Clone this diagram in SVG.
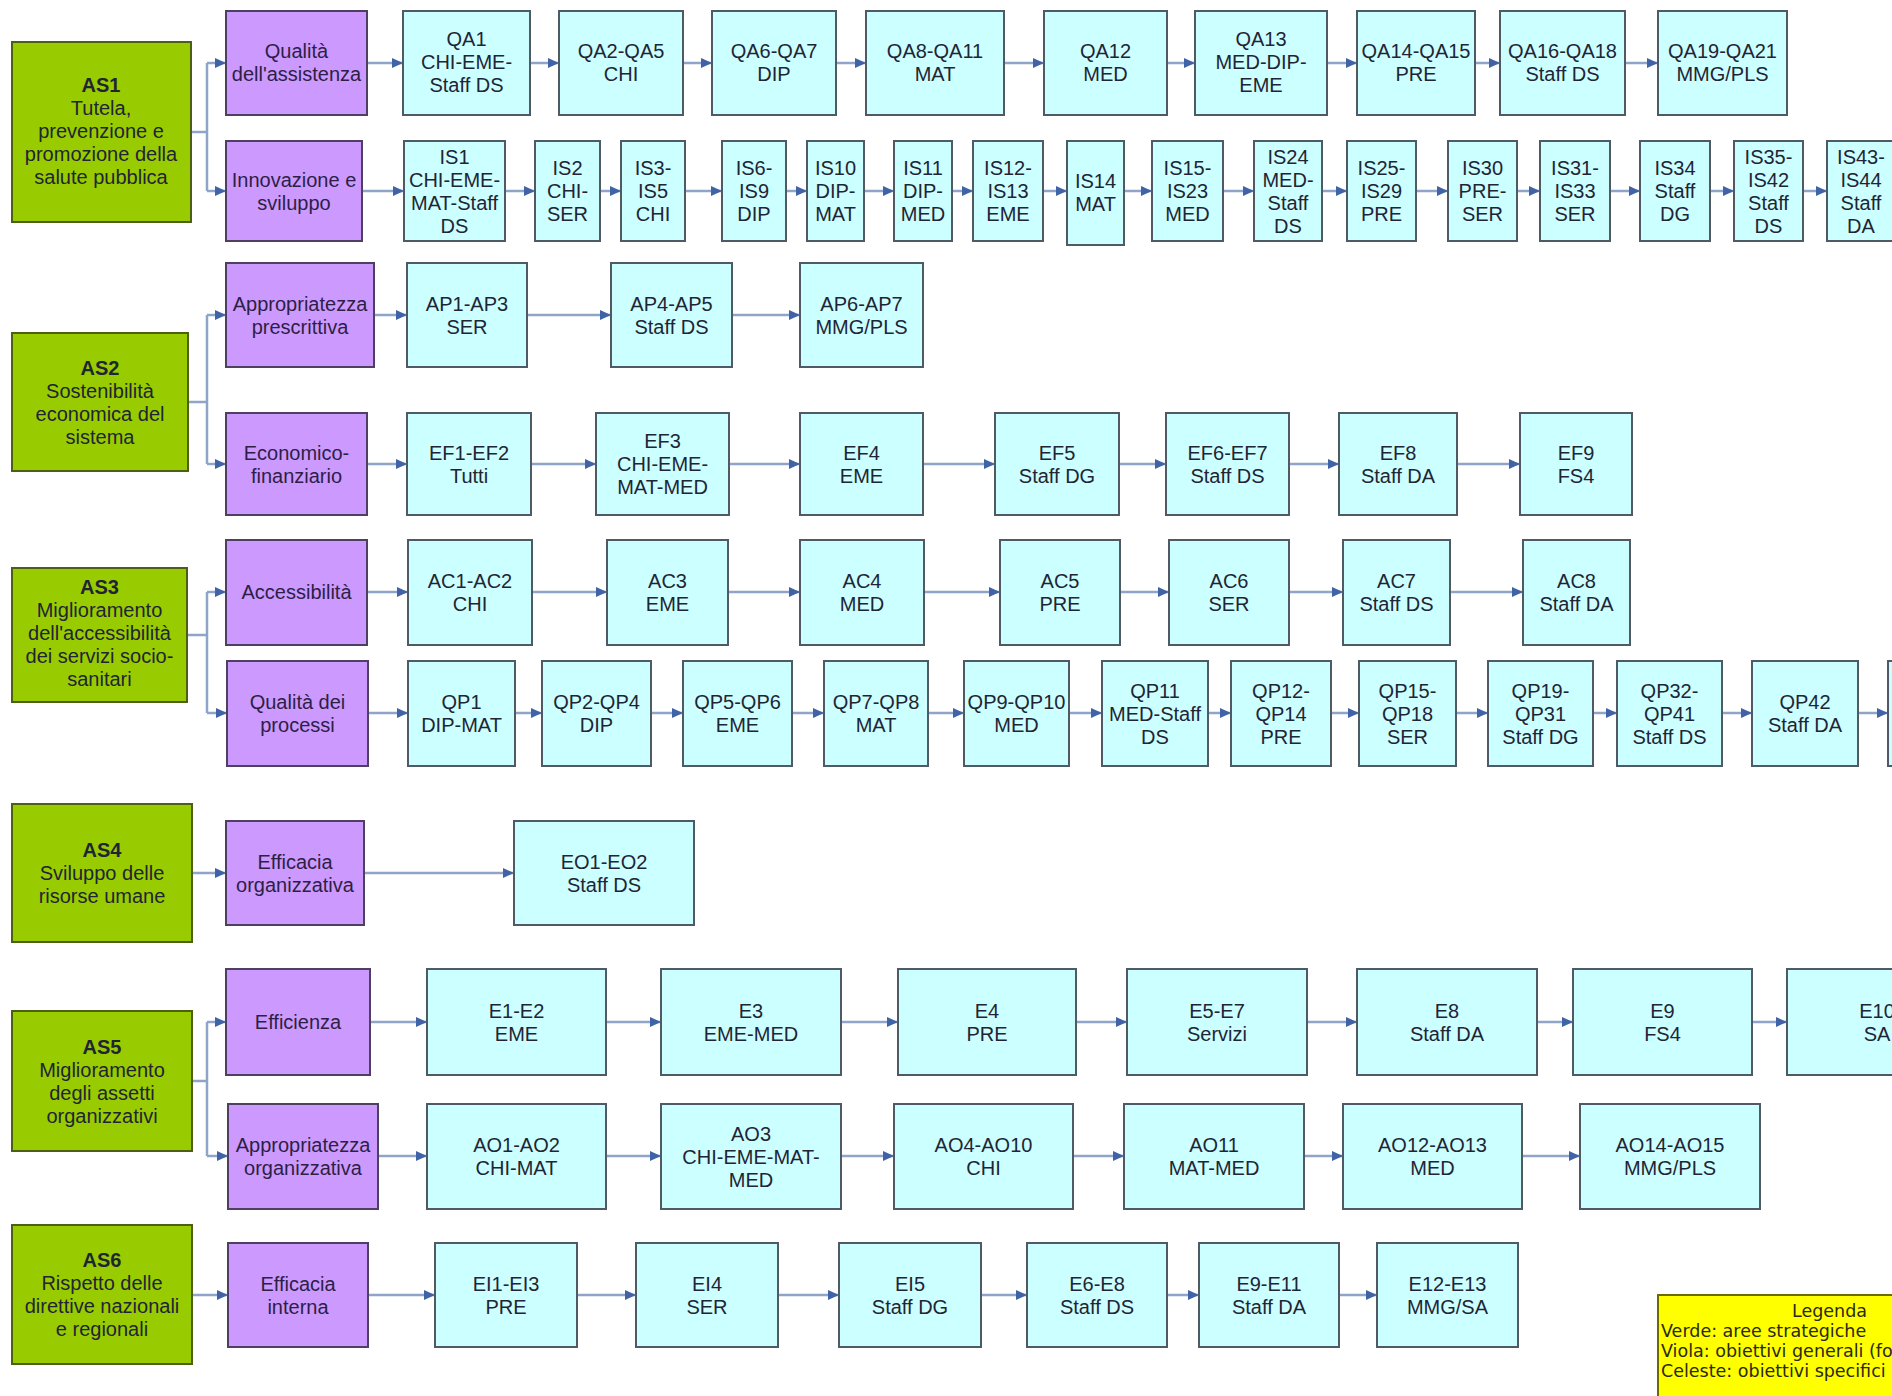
<svg xmlns="http://www.w3.org/2000/svg" width="1892" height="1396" viewBox="0 0 1892 1396">
<defs>
<marker id="ah" markerWidth="11" markerHeight="10" refX="10" refY="5" orient="auto" markerUnits="userSpaceOnUse"><path d="M0,0 L11,5 L0,10 z" fill="#3f63a6"/></marker>
<style>
.g{fill:#99cc00;stroke:#4d5f10;stroke-width:2}
.p{fill:#cc99ff;stroke:#4e4060;stroke-width:2}
.c{fill:#ccffff;stroke:#505a64;stroke-width:2}
text{font-family:"Liberation Sans",Arial,sans-serif;font-size:20px;fill:#1f2535;text-anchor:middle}
.pt{fill:#2d1f45}
.b{font-weight:bold}
.bus path{stroke:#8ea4c8;stroke-width:2.5;fill:none}
.arr path{stroke:#8ea4c8;stroke-width:2.5;fill:none;marker-end:url(#ah)}
.leg{fill:#ffff00;stroke:#6b6b00;stroke-width:2}
.lt{font-family:"DejaVu Sans",Verdana,sans-serif;font-size:17.5px;fill:#2a2a10;text-anchor:start}
</style>
</defs>
<rect width="1892" height="1396" fill="#ffffff"/>

<g id="connectors">
<g class="bus">
<path d="M191 132 H207 M207 63 V191"/>
<path d="M188 402 H207 M207 315 V464"/>
<path d="M187 635 H207 M207 592 V713"/>
<path d="M192 1081 H207 M207 1022 V1156"/>
</g>
<g class="arr">
<path d="M207 63 H225"/><path d="M207 191 H225"/>
<path d="M207 315 H225"/><path d="M207 464 H225"/>
<path d="M207 592 H225"/><path d="M207 713 H226"/>
<path d="M207 1022 H225"/><path d="M207 1156 H227"/>
<path d="M192 873 H225"/><path d="M192 1295 H227"/>
<path d="M367 63 H402"/><path d="M530 63 H558"/><path d="M683 63 H711"/><path d="M836 63 H865"/><path d="M1004 63 H1043"/><path d="M1167 63 H1194"/><path d="M1327 63 H1356"/><path d="M1475 63 H1499"/><path d="M1625 63 H1657"/>
<path d="M362 191 H403"/><path d="M505 191 H534"/><path d="M600 191 H620"/><path d="M685 191 H721"/><path d="M786 191 H806"/><path d="M864 191 H893"/><path d="M952 191 H972"/><path d="M1043 191 H1066"/><path d="M1124 191 H1151"/><path d="M1223 191 H1253"/><path d="M1322 191 H1346"/><path d="M1416 191 H1447"/><path d="M1517 191 H1539"/><path d="M1610 191 H1639"/><path d="M1710 191 H1733"/><path d="M1803 191 H1826"/>
<path d="M374 315 H406"/><path d="M527 315 H610"/><path d="M732 315 H799"/>
<path d="M367 464 H406"/><path d="M531 464 H595"/><path d="M729 464 H799"/><path d="M923 464 H994"/><path d="M1119 464 H1165"/><path d="M1289 464 H1338"/><path d="M1457 464 H1519"/>
<path d="M367 592 H407"/><path d="M532 592 H606"/><path d="M728 592 H799"/><path d="M924 592 H999"/><path d="M1120 592 H1168"/><path d="M1289 592 H1342"/><path d="M1450 592 H1522"/>
<path d="M368 713 H407"/><path d="M515 713 H541"/><path d="M651 713 H682"/><path d="M792 713 H823"/><path d="M928 713 H963"/><path d="M1069 713 H1101"/><path d="M1208 713 H1230"/><path d="M1331 713 H1358"/><path d="M1456 713 H1487"/><path d="M1593 713 H1616"/><path d="M1722 713 H1751"/><path d="M1858 713 H1887"/>
<path d="M364 873 H513"/>
<path d="M370 1022 H426"/><path d="M606 1022 H660"/><path d="M841 1022 H897"/><path d="M1076 1022 H1126"/><path d="M1307 1022 H1356"/><path d="M1537 1022 H1572"/><path d="M1752 1022 H1786"/>
<path d="M378 1156 H426"/><path d="M606 1156 H660"/><path d="M841 1156 H893"/><path d="M1073 1156 H1123"/><path d="M1304 1156 H1342"/><path d="M1522 1156 H1579"/>
<path d="M368 1295 H434"/><path d="M577 1295 H635"/><path d="M778 1295 H838"/><path d="M981 1295 H1026"/><path d="M1167 1295 H1198"/><path d="M1339 1295 H1376"/>
</g>
</g>

<!-- AS1 -->
<g id="AS1"><rect class="g" x="12" y="42" width="179" height="180"/><text><tspan class="b" x="101" y="92">AS1</tspan><tspan x="101" y="115">Tutela,</tspan><tspan x="101" y="138">prevenzione e</tspan><tspan x="101" y="161">promozione della</tspan><tspan x="101" y="184">salute pubblica</tspan></text></g>
<g id="QualitaAssistenza"><rect class="p" x="226" y="11" width="141" height="104"/><text class="pt"><tspan x="296.5" y="57.5">Qualità</tspan><tspan x="296.5" y="80.5">dell'assistenza</tspan></text></g>
<g id="QA1"><rect class="c" x="403" y="11" width="127" height="104"/><text><tspan x="466.5" y="46">QA1</tspan><tspan x="466.5" y="69">CHI-EME-</tspan><tspan x="466.5" y="92">Staff DS</tspan></text></g>
<g id="QA2-QA5"><rect class="c" x="559" y="11" width="124" height="104"/><text><tspan x="621" y="57.5">QA2-QA5</tspan><tspan x="621" y="80.5">CHI</tspan></text></g>
<g id="QA6-QA7"><rect class="c" x="712" y="11" width="124" height="104"/><text><tspan x="774" y="57.5">QA6-QA7</tspan><tspan x="774" y="80.5">DIP</tspan></text></g>
<g id="QA8-QA11"><rect class="c" x="866" y="11" width="138" height="104"/><text><tspan x="935" y="57.5">QA8-QA11</tspan><tspan x="935" y="80.5">MAT</tspan></text></g>
<g id="QA12"><rect class="c" x="1044" y="11" width="123" height="104"/><text><tspan x="1105.5" y="57.5">QA12</tspan><tspan x="1105.5" y="80.5">MED</tspan></text></g>
<g id="QA13"><rect class="c" x="1195" y="11" width="132" height="104"/><text><tspan x="1261" y="46">QA13</tspan><tspan x="1261" y="69">MED-DIP-</tspan><tspan x="1261" y="92">EME</tspan></text></g>
<g id="QA14-QA15"><rect class="c" x="1357" y="11" width="118" height="104"/><text><tspan x="1416" y="57.5">QA14-QA15</tspan><tspan x="1416" y="80.5">PRE</tspan></text></g>
<g id="QA16-QA18"><rect class="c" x="1500" y="11" width="125" height="104"/><text><tspan x="1562.5" y="57.5">QA16-QA18</tspan><tspan x="1562.5" y="80.5">Staff DS</tspan></text></g>
<g id="QA19-QA21"><rect class="c" x="1658" y="11" width="129" height="104"/><text><tspan x="1722.5" y="57.5">QA19-QA21</tspan><tspan x="1722.5" y="80.5">MMG/PLS</tspan></text></g>

<g id="InnovazioneSviluppo"><rect class="p" x="226" y="141" width="136" height="100"/><text class="pt"><tspan x="294" y="186.5">Innovazione e</tspan><tspan x="294" y="209.5">sviluppo</tspan></text></g>
<g id="IS1"><rect class="c" x="404" y="141" width="101" height="100"/><text><tspan x="454.5" y="163.5">IS1</tspan><tspan x="454.5" y="186.5">CHI-EME-</tspan><tspan x="454.5" y="209.5">MAT-Staff</tspan><tspan x="454.5" y="232.5">DS</tspan></text></g>
<g id="IS2"><rect class="c" x="535" y="141" width="65" height="100"/><text><tspan x="567.5" y="175">IS2</tspan><tspan x="567.5" y="198">CHI-</tspan><tspan x="567.5" y="221">SER</tspan></text></g>
<g id="IS3-IS5"><rect class="c" x="621" y="141" width="64" height="100"/><text><tspan x="653" y="175">IS3-</tspan><tspan x="653" y="198">IS5</tspan><tspan x="653" y="221">CHI</tspan></text></g>
<g id="IS6-IS9"><rect class="c" x="722" y="141" width="64" height="100"/><text><tspan x="754" y="175">IS6-</tspan><tspan x="754" y="198">IS9</tspan><tspan x="754" y="221">DIP</tspan></text></g>
<g id="IS10"><rect class="c" x="807" y="141" width="57" height="100"/><text><tspan x="835.5" y="175">IS10</tspan><tspan x="835.5" y="198">DIP-</tspan><tspan x="835.5" y="221">MAT</tspan></text></g>
<g id="IS11"><rect class="c" x="894" y="141" width="58" height="100"/><text><tspan x="923" y="175">IS11</tspan><tspan x="923" y="198">DIP-</tspan><tspan x="923" y="221">MED</tspan></text></g>
<g id="IS12-IS13"><rect class="c" x="973" y="141" width="70" height="100"/><text><tspan x="1008" y="175">IS12-</tspan><tspan x="1008" y="198">IS13</tspan><tspan x="1008" y="221">EME</tspan></text></g>
<g id="IS14"><rect class="c" x="1067" y="141" width="57" height="104"/><text><tspan x="1095.5" y="188">IS14</tspan><tspan x="1095.5" y="211">MAT</tspan></text></g>
<g id="IS15-IS23"><rect class="c" x="1152" y="141" width="71" height="100"/><text><tspan x="1187.5" y="175">IS15-</tspan><tspan x="1187.5" y="198">IS23</tspan><tspan x="1187.5" y="221">MED</tspan></text></g>
<g id="IS24"><rect class="c" x="1254" y="141" width="68" height="100"/><text><tspan x="1288" y="163.5">IS24</tspan><tspan x="1288" y="186.5">MED-</tspan><tspan x="1288" y="209.5">Staff</tspan><tspan x="1288" y="232.5">DS</tspan></text></g>
<g id="IS25-IS29"><rect class="c" x="1347" y="141" width="69" height="100"/><text><tspan x="1381.5" y="175">IS25-</tspan><tspan x="1381.5" y="198">IS29</tspan><tspan x="1381.5" y="221">PRE</tspan></text></g>
<g id="IS30"><rect class="c" x="1448" y="141" width="69" height="100"/><text><tspan x="1482.5" y="175">IS30</tspan><tspan x="1482.5" y="198">PRE-</tspan><tspan x="1482.5" y="221">SER</tspan></text></g>
<g id="IS31-IS33"><rect class="c" x="1540" y="141" width="70" height="100"/><text><tspan x="1575" y="175">IS31-</tspan><tspan x="1575" y="198">IS33</tspan><tspan x="1575" y="221">SER</tspan></text></g>
<g id="IS34"><rect class="c" x="1640" y="141" width="70" height="100"/><text><tspan x="1675" y="175">IS34</tspan><tspan x="1675" y="198">Staff</tspan><tspan x="1675" y="221">DG</tspan></text></g>
<g id="IS35-IS42"><rect class="c" x="1734" y="141" width="69" height="100"/><text><tspan x="1768.5" y="163.5">IS35-</tspan><tspan x="1768.5" y="186.5">IS42</tspan><tspan x="1768.5" y="209.5">Staff</tspan><tspan x="1768.5" y="232.5">DS</tspan></text></g>
<g id="IS43-IS44"><rect class="c" x="1827" y="141" width="70" height="100"/><text><tspan x="1861" y="163.5">IS43-</tspan><tspan x="1861" y="186.5">IS44</tspan><tspan x="1861" y="209.5">Staff</tspan><tspan x="1861" y="232.5">DA</tspan></text></g>

<!-- AS2 -->
<g id="AS2"><rect class="g" x="12" y="333" width="176" height="138"/><text><tspan class="b" x="100" y="374.5">AS2</tspan><tspan x="100" y="397.5">Sostenibilità</tspan><tspan x="100" y="420.5">economica del</tspan><tspan x="100" y="443.5">sistema</tspan></text></g>
<g id="AppropriatezzaPrescrittiva"><rect class="p" x="226" y="263" width="148" height="104"/><text class="pt"><tspan x="300" y="310.5">Appropriatezza</tspan><tspan x="300" y="333.5">prescrittiva</tspan></text></g>
<g id="AP1-AP3"><rect class="c" x="407" y="263" width="120" height="104"/><text><tspan x="467" y="310.5">AP1-AP3</tspan><tspan x="467" y="333.5">SER</tspan></text></g>
<g id="AP4-AP5"><rect class="c" x="611" y="263" width="121" height="104"/><text><tspan x="671.5" y="310.5">AP4-AP5</tspan><tspan x="671.5" y="333.5">Staff DS</tspan></text></g>
<g id="AP6-AP7"><rect class="c" x="800" y="263" width="123" height="104"/><text><tspan x="861.5" y="310.5">AP6-AP7</tspan><tspan x="861.5" y="333.5">MMG/PLS</tspan></text></g>

<g id="EconomicoFinanziario"><rect class="p" x="226" y="413" width="141" height="102"/><text class="pt"><tspan x="296.5" y="459.5">Economico-</tspan><tspan x="296.5" y="482.5">finanziario</tspan></text></g>
<g id="EF1-EF2"><rect class="c" x="407" y="413" width="124" height="102"/><text><tspan x="469" y="459.5">EF1-EF2</tspan><tspan x="469" y="482.5">Tutti</tspan></text></g>
<g id="EF3"><rect class="c" x="596" y="413" width="133" height="102"/><text><tspan x="662.5" y="448">EF3</tspan><tspan x="662.5" y="471">CHI-EME-</tspan><tspan x="662.5" y="494">MAT-MED</tspan></text></g>
<g id="EF4"><rect class="c" x="800" y="413" width="123" height="102"/><text><tspan x="861.5" y="459.5">EF4</tspan><tspan x="861.5" y="482.5">EME</tspan></text></g>
<g id="EF5"><rect class="c" x="995" y="413" width="124" height="102"/><text><tspan x="1057" y="459.5">EF5</tspan><tspan x="1057" y="482.5">Staff DG</tspan></text></g>
<g id="EF6-EF7"><rect class="c" x="1166" y="413" width="123" height="102"/><text><tspan x="1227.5" y="459.5">EF6-EF7</tspan><tspan x="1227.5" y="482.5">Staff DS</tspan></text></g>
<g id="EF8"><rect class="c" x="1339" y="413" width="118" height="102"/><text><tspan x="1398" y="459.5">EF8</tspan><tspan x="1398" y="482.5">Staff DA</tspan></text></g>
<g id="EF9"><rect class="c" x="1520" y="413" width="112" height="102"/><text><tspan x="1576" y="459.5">EF9</tspan><tspan x="1576" y="482.5">FS4</tspan></text></g>

<!-- AS3 -->
<g id="AS3"><rect class="g" x="12" y="568" width="175" height="134"/><text><tspan class="b" x="99.5" y="594">AS3</tspan><tspan x="99.5" y="617">Miglioramento</tspan><tspan x="99.5" y="640">dell'accessibilità</tspan><tspan x="99.5" y="663">dei servizi socio-</tspan><tspan x="99.5" y="686">sanitari</tspan></text></g>
<g id="Accessibilita"><rect class="p" x="226" y="540" width="141" height="105"/><text class="pt"><tspan x="296.5" y="599">Accessibilità</tspan></text></g>
<g id="AC1-AC2"><rect class="c" x="408" y="540" width="124" height="105"/><text><tspan x="470" y="588">AC1-AC2</tspan><tspan x="470" y="611">CHI</tspan></text></g>
<g id="AC3"><rect class="c" x="607" y="540" width="121" height="105"/><text><tspan x="667.5" y="588">AC3</tspan><tspan x="667.5" y="611">EME</tspan></text></g>
<g id="AC4"><rect class="c" x="800" y="540" width="124" height="105"/><text><tspan x="862" y="588">AC4</tspan><tspan x="862" y="611">MED</tspan></text></g>
<g id="AC5"><rect class="c" x="1000" y="540" width="120" height="105"/><text><tspan x="1060" y="588">AC5</tspan><tspan x="1060" y="611">PRE</tspan></text></g>
<g id="AC6"><rect class="c" x="1169" y="540" width="120" height="105"/><text><tspan x="1229" y="588">AC6</tspan><tspan x="1229" y="611">SER</tspan></text></g>
<g id="AC7"><rect class="c" x="1343" y="540" width="107" height="105"/><text><tspan x="1396.5" y="588">AC7</tspan><tspan x="1396.5" y="611">Staff DS</tspan></text></g>
<g id="AC8"><rect class="c" x="1523" y="540" width="107" height="105"/><text><tspan x="1576.5" y="588">AC8</tspan><tspan x="1576.5" y="611">Staff DA</tspan></text></g>

<g id="QualitaProcessi"><rect class="p" x="227" y="661" width="141" height="105"/><text class="pt"><tspan x="297.5" y="709">Qualità dei</tspan><tspan x="297.5" y="732">processi</tspan></text></g>
<g id="QP1"><rect class="c" x="408" y="661" width="107" height="105"/><text><tspan x="461.5" y="709">QP1</tspan><tspan x="461.5" y="732">DIP-MAT</tspan></text></g>
<g id="QP2-QP4"><rect class="c" x="542" y="661" width="109" height="105"/><text><tspan x="596.5" y="709">QP2-QP4</tspan><tspan x="596.5" y="732">DIP</tspan></text></g>
<g id="QP5-QP6"><rect class="c" x="683" y="661" width="109" height="105"/><text><tspan x="737.5" y="709">QP5-QP6</tspan><tspan x="737.5" y="732">EME</tspan></text></g>
<g id="QP7-QP8"><rect class="c" x="824" y="661" width="104" height="105"/><text><tspan x="876" y="709">QP7-QP8</tspan><tspan x="876" y="732">MAT</tspan></text></g>
<g id="QP9-QP10"><rect class="c" x="964" y="661" width="105" height="105"/><text><tspan x="1016.5" y="709">QP9-QP10</tspan><tspan x="1016.5" y="732">MED</tspan></text></g>
<g id="QP11"><rect class="c" x="1102" y="661" width="106" height="105"/><text><tspan x="1155" y="697.5">QP11</tspan><tspan x="1155" y="720.5">MED-Staff</tspan><tspan x="1155" y="743.5">DS</tspan></text></g>
<g id="QP12-QP14"><rect class="c" x="1231" y="661" width="100" height="105"/><text><tspan x="1281" y="697.5">QP12-</tspan><tspan x="1281" y="720.5">QP14</tspan><tspan x="1281" y="743.5">PRE</tspan></text></g>
<g id="QP15-QP18"><rect class="c" x="1359" y="661" width="97" height="105"/><text><tspan x="1407.5" y="697.5">QP15-</tspan><tspan x="1407.5" y="720.5">QP18</tspan><tspan x="1407.5" y="743.5">SER</tspan></text></g>
<g id="QP19-QP31"><rect class="c" x="1488" y="661" width="105" height="105"/><text><tspan x="1540.5" y="697.5">QP19-</tspan><tspan x="1540.5" y="720.5">QP31</tspan><tspan x="1540.5" y="743.5">Staff DG</tspan></text></g>
<g id="QP32-QP41"><rect class="c" x="1617" y="661" width="105" height="105"/><text><tspan x="1669.5" y="697.5">QP32-</tspan><tspan x="1669.5" y="720.5">QP41</tspan><tspan x="1669.5" y="743.5">Staff DS</tspan></text></g>
<g id="QP42"><rect class="c" x="1752" y="661" width="106" height="105"/><text><tspan x="1805" y="709">QP42</tspan><tspan x="1805" y="732">Staff DA</tspan></text></g>
<g id="QP-next"><rect class="c" x="1888" y="661" width="106" height="105"/></g>

<!-- AS4 -->
<g id="AS4"><rect class="g" x="12" y="804" width="180" height="138"/><text><tspan class="b" x="102" y="857">AS4</tspan><tspan x="102" y="880">Sviluppo delle</tspan><tspan x="102" y="903">risorse umane</tspan></text></g>
<g id="EfficaciaOrganizzativa"><rect class="p" x="226" y="821" width="138" height="104"/><text class="pt"><tspan x="295" y="868.5">Efficacia</tspan><tspan x="295" y="891.5">organizzativa</tspan></text></g>
<g id="EO1-EO2"><rect class="c" x="514" y="821" width="180" height="104"/><text><tspan x="604" y="868.5">EO1-EO2</tspan><tspan x="604" y="891.5">Staff DS</tspan></text></g>

<!-- AS5 -->
<g id="AS5"><rect class="g" x="12" y="1011" width="180" height="140"/><text><tspan class="b" x="102" y="1053.5">AS5</tspan><tspan x="102" y="1076.5">Miglioramento</tspan><tspan x="102" y="1099.5">degli assetti</tspan><tspan x="102" y="1122.5">organizzativi</tspan></text></g>
<g id="Efficienza"><rect class="p" x="226" y="969" width="144" height="106"/><text class="pt"><tspan x="298" y="1029">Efficienza</tspan></text></g>
<g id="E1-E2"><rect class="c" x="427" y="969" width="179" height="106"/><text><tspan x="516.5" y="1017.5">E1-E2</tspan><tspan x="516.5" y="1040.5">EME</tspan></text></g>
<g id="E3"><rect class="c" x="661" y="969" width="180" height="106"/><text><tspan x="751" y="1017.5">E3</tspan><tspan x="751" y="1040.5">EME-MED</tspan></text></g>
<g id="E4"><rect class="c" x="898" y="969" width="178" height="106"/><text><tspan x="987" y="1017.5">E4</tspan><tspan x="987" y="1040.5">PRE</tspan></text></g>
<g id="E5-E7"><rect class="c" x="1127" y="969" width="180" height="106"/><text><tspan x="1217" y="1017.5">E5-E7</tspan><tspan x="1217" y="1040.5">Servizi</tspan></text></g>
<g id="E8"><rect class="c" x="1357" y="969" width="180" height="106"/><text><tspan x="1447" y="1017.5">E8</tspan><tspan x="1447" y="1040.5">Staff DA</tspan></text></g>
<g id="E9"><rect class="c" x="1573" y="969" width="179" height="106"/><text><tspan x="1662.5" y="1017.5">E9</tspan><tspan x="1662.5" y="1040.5">FS4</tspan></text></g>
<g id="E10"><rect class="c" x="1787" y="969" width="180" height="106"/><text><tspan x="1877" y="1017.5">E10</tspan><tspan x="1877" y="1040.5">SA</tspan></text></g>

<g id="AppropriatezzaOrganizzativa"><rect class="p" x="228" y="1104" width="150" height="105"/><text class="pt"><tspan x="303" y="1152">Appropriatezza</tspan><tspan x="303" y="1175">organizzativa</tspan></text></g>
<g id="AO1-AO2"><rect class="c" x="427" y="1104" width="179" height="105"/><text><tspan x="516.5" y="1152">AO1-AO2</tspan><tspan x="516.5" y="1175">CHI-MAT</tspan></text></g>
<g id="AO3"><rect class="c" x="661" y="1104" width="180" height="105"/><text><tspan x="751" y="1140.5">AO3</tspan><tspan x="751" y="1163.5">CHI-EME-MAT-</tspan><tspan x="751" y="1186.5">MED</tspan></text></g>
<g id="AO4-AO10"><rect class="c" x="894" y="1104" width="179" height="105"/><text><tspan x="983.5" y="1152">AO4-AO10</tspan><tspan x="983.5" y="1175">CHI</tspan></text></g>
<g id="AO11"><rect class="c" x="1124" y="1104" width="180" height="105"/><text><tspan x="1214" y="1152">AO11</tspan><tspan x="1214" y="1175">MAT-MED</tspan></text></g>
<g id="AO12-AO13"><rect class="c" x="1343" y="1104" width="179" height="105"/><text><tspan x="1432.5" y="1152">AO12-AO13</tspan><tspan x="1432.5" y="1175">MED</tspan></text></g>
<g id="AO14-AO15"><rect class="c" x="1580" y="1104" width="180" height="105"/><text><tspan x="1670" y="1152">AO14-AO15</tspan><tspan x="1670" y="1175">MMG/PLS</tspan></text></g>

<!-- AS6 -->
<g id="AS6"><rect class="g" x="12" y="1225" width="180" height="139"/><text><tspan class="b" x="102" y="1267">AS6</tspan><tspan x="102" y="1290">Rispetto delle</tspan><tspan x="102" y="1313">direttive nazionali</tspan><tspan x="102" y="1336">e regionali</tspan></text></g>
<g id="EfficaciaInterna"><rect class="p" x="228" y="1243" width="140" height="104"/><text class="pt"><tspan x="298" y="1290.5">Efficacia</tspan><tspan x="298" y="1313.5">interna</tspan></text></g>
<g id="EI1-EI3"><rect class="c" x="435" y="1243" width="142" height="104"/><text><tspan x="506" y="1290.5">EI1-EI3</tspan><tspan x="506" y="1313.5">PRE</tspan></text></g>
<g id="EI4"><rect class="c" x="636" y="1243" width="142" height="104"/><text><tspan x="707" y="1290.5">EI4</tspan><tspan x="707" y="1313.5">SER</tspan></text></g>
<g id="EI5"><rect class="c" x="839" y="1243" width="142" height="104"/><text><tspan x="910" y="1290.5">EI5</tspan><tspan x="910" y="1313.5">Staff DG</tspan></text></g>
<g id="E6-E8"><rect class="c" x="1027" y="1243" width="140" height="104"/><text><tspan x="1097" y="1290.5">E6-E8</tspan><tspan x="1097" y="1313.5">Staff DS</tspan></text></g>
<g id="E9-E11"><rect class="c" x="1199" y="1243" width="140" height="104"/><text><tspan x="1269" y="1290.5">E9-E11</tspan><tspan x="1269" y="1313.5">Staff DA</tspan></text></g>
<g id="E12-E13"><rect class="c" x="1377" y="1243" width="141" height="104"/><text><tspan x="1447.5" y="1290.5">E12-E13</tspan><tspan x="1447.5" y="1313.5">MMG/SA</tspan></text></g>

<!-- Legend -->
<g id="Legenda"><rect class="leg" x="1658" y="1295" width="340" height="120"/>
<text class="lt" x="1792" y="1317">Legenda</text>
<text class="lt" x="1661" y="1337">Verde: aree strategiche</text>
<text class="lt" x="1661" y="1357">Viola: obiettivi generali (fo</text>
<text class="lt" x="1661" y="1377">Celeste: obiettivi specifici</text>
</g>
</svg>
